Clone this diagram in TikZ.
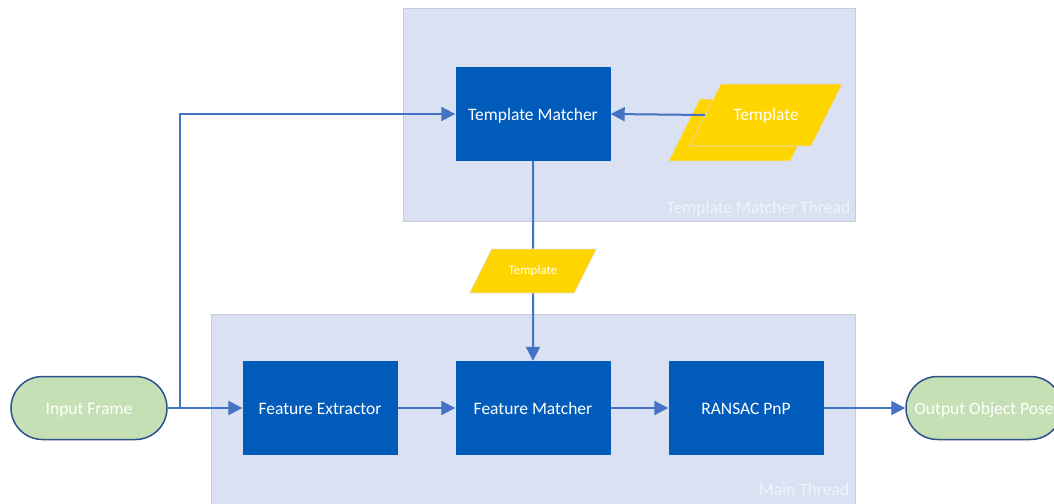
\documentclass[tikz,border=0pt]{standalone}
\usepackage{fontspec}
\setmainfont{Carlito}
\usetikzlibrary{arrows.meta}
\usetikzlibrary{shapes.geometric}
\definecolor{threadbg}{RGB}{218,225,242}
\definecolor{threadline}{RGB}{200,202,212}
\definecolor{procblue}{RGB}{0,91,187}
\definecolor{dataamber}{RGB}{255,213,0}
\definecolor{termgreen}{RGB}{197,224,180}
\definecolor{termline}{RGB}{47,82,143}
\definecolor{flowblue}{RGB}{68,114,196}

\begin{document}
\begin{tikzpicture}[x=1pt,y=-1pt,
        font=\fontsize{17.5}{21}\selectfont,
        thread/.style={draw=threadline,fill=threadbg,line width=0.8pt,inner sep=0pt},
        threadlabel/.style={text=white!60!threadbg,inner sep=0pt},
        proc/.style={fill=procblue,text=white,minimum width=155pt,minimum height=94pt,
            inner sep=0pt,text height=18pt,text depth=4.4pt},
        data/.style={trapezium,trapezium left angle=63.4,trapezium right angle=116.6,
            fill=dataamber,draw=white!75!gray,line width=0.6pt,text=white,
            text height=15pt,text depth=4pt,inner xsep=12.5pt,inner ysep=21.5pt},
        smalldata/.style={data,font=\fontsize{13}{15}\selectfont,
            text height=10pt,text depth=3pt,inner xsep=17pt,inner ysep=15.5pt},
        term/.style={rectangle,rounded corners=31.5pt,fill=termgreen,draw=termline,
            line width=1.5pt,text=white,minimum width=156pt,minimum height=63pt,
            inner sep=0pt,text height=17pt,text depth=4.4pt},
        link/.style={draw=flowblue,line width=2pt},
        flow/.style={link,-{Triangle[length=14pt,width=14pt]}},
    ]
        \useasboundingbox (0,0) rectangle (1054,503);

        \node[thread,minimum width=452pt,minimum height=213pt] (tmthread) at (629,114.5) {};
        \node[threadlabel,anchor=south east] (tmlabel) at ([xshift=-5pt,yshift=5pt]tmthread.south east) {Template Matcher Thread};
        \node[thread,minimum width=644pt,minimum height=192pt] (mainthread) at (533,410) {};
        \node[threadlabel,anchor=south east] (mainlabel) at ([xshift=-6pt,yshift=11pt]mainthread.south east) {Main Thread};

        \node[proc] (tm) at (533,114) {Template Matcher};
        \node[data] (tplback) at (745,130) {\phantom{Template}};
        \node[data] (tplfront) at (766,115) {Template};
        \node[smalldata] (tpl) at (533,271) {Template};

        \node[term] (in) at (89,408) {Input Frame};
        \node[proc] (fe) at (320,408) {Feature Extractor};
        \node[proc] (fm) at (533,408) {Feature Matcher};
        \node[proc] (pnp) at (746,408) {RANSAC PnP};
        \node[term] (out) at (984,408) {Output Object Pose};

        \coordinate (split) at (180,408);
        \draw[flow] (in.east) -- (fe.west);
        \draw[flow] (split) |- (tm.west);
        \draw[flow] (tplfront.west) -- (tm.east);
        \draw[link] (tm.south) -- (tpl.north);
        \draw[flow] (tpl.south) -- (fm.north);
        \draw[flow] (fe.east) -- (fm.west);
        \draw[flow] (fm.east) -- (pnp.west);
        \draw[flow] (pnp.east) -- (out.west);
\end{tikzpicture}
\end{document}
